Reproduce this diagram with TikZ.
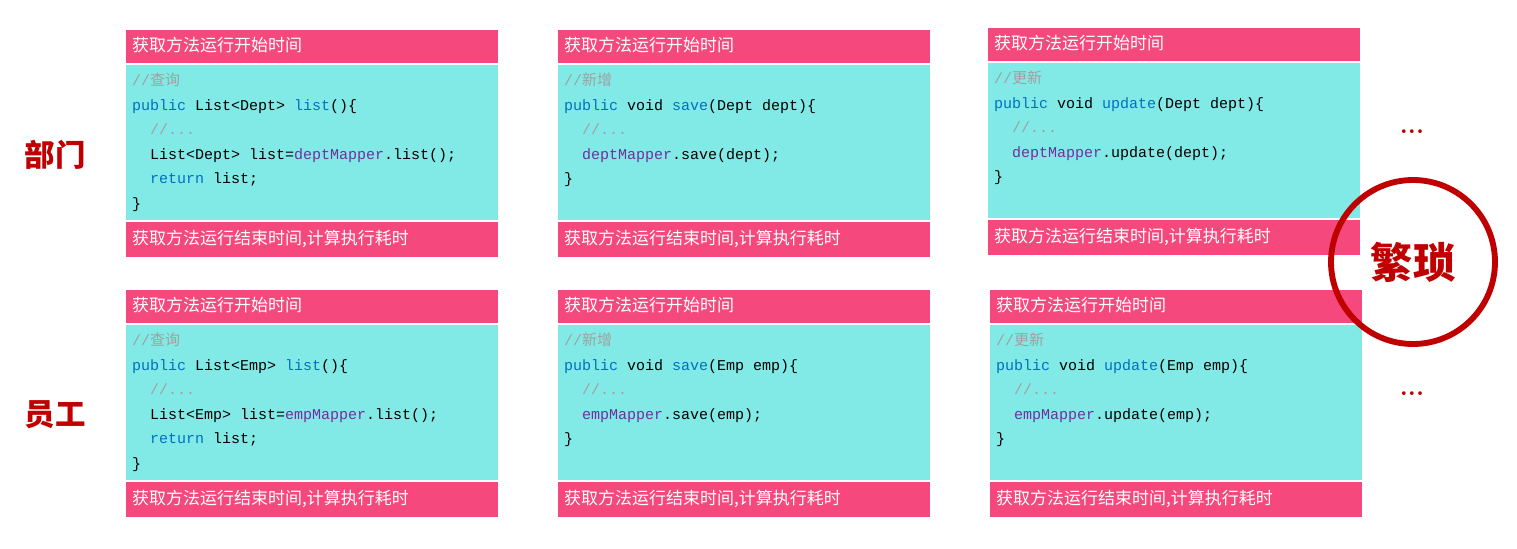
\documentclass[tikz,border=0pt]{standalone}
\usepackage{fontspec}
\setmonofont{Liberation Mono}
\newfontfamily\cjk{Noto Sans CJK SC}
\newfontfamily\cjkb{Noto Sans CJK SC Black}
\definecolor{hdr}{HTML}{F5497E}
\definecolor{cod}{HTML}{82EAE6}
\definecolor{kw}{HTML}{0070C0}
\definecolor{fn}{HTML}{7030A0}
\definecolor{cm}{HTML}{A0A0A0}
\definecolor{stamp}{HTML}{C00000}
\tikzset{
 hbox/.style={fill=hdr,draw=none,minimum width=372*0.03cm,minimum height=#1*0.03cm,anchor=north west,inner sep=0},
 cbox/.style={fill=cod,draw=none,minimum width=372*0.03cm,minimum height=155*0.03cm,anchor=north west,inner sep=0},
 htext/.style={text=white,font=\cjk\fontsize{14.5}{16}\selectfont,anchor=west,inner sep=0},
 code/.style={font=\ttfamily\fontsize{12.8}{20.9}\selectfont,align=left,anchor=north west,inner sep=0},
 side/.style={text=stamp,font=\cjkb\fontsize{26}{28}\selectfont},
}
\newcommand{\cm}[1]{\textcolor{cm}{//{\cjk #1}}}
\newcommand{\ind}{\ \ }
\newcommand{\panel}[4]{% name, x, top, code
 \node[hbox=33] (#1h) at (#2,#3) {};
 \node[htext] (#1ht) at (#2+6,#3+15) {获取方法运行开始时间};
 \node[cbox] (#1c) at (#2,#3+35) {};
 \node[code] (#1ct) at (#2+6,#3+43) {#4};
 \node[hbox=35] (#1f) at (#2,#3+192) {};
 \node[htext] (#1ft) at (#2+6,#3+209) {获取方法运行结束时间,计算执行耗时};
}
\begin{document}
\begin{tikzpicture}[x=0.03cm,y=-0.03cm]
\useasboundingbox[fill=white] (0,0) rectangle (1517,548);
\panel{a}{126}{30}{\cm{查询}\\\textcolor{kw}{public} List<Dept> \textcolor{kw}{list}()\{\\\ind\textcolor{cm}{//...}\\\ind List<Dept> list=\textcolor{fn}{deptMapper}.list();\\\ind\textcolor{kw}{return} list;\\\}}
\panel{b}{558}{30}{\cm{新增}\\\textcolor{kw}{public} void \textcolor{kw}{save}(Dept dept)\{\\\ind\textcolor{cm}{//...}\\\ind\textcolor{fn}{deptMapper}.save(dept);\\\}}
\panel{c}{988}{28}{\cm{更新}\\\textcolor{kw}{public} void \textcolor{kw}{update}(Dept dept)\{\\\ind\textcolor{cm}{//...}\\\ind\textcolor{fn}{deptMapper}.update(dept);\\\}}
\panel{d}{126}{290}{\cm{查询}\\\textcolor{kw}{public} List<Emp> \textcolor{kw}{list}()\{\\\ind\textcolor{cm}{//...}\\\ind List<Emp> list=\textcolor{fn}{empMapper}.list();\\\ind\textcolor{kw}{return} list;\\\}}
\panel{e}{558}{290}{\cm{新增}\\\textcolor{kw}{public} void \textcolor{kw}{save}(Emp emp)\{\\\ind\textcolor{cm}{//...}\\\ind\textcolor{fn}{empMapper}.save(emp);\\\}}
\panel{f}{990}{290}{\cm{更新}\\\textcolor{kw}{public} void \textcolor{kw}{update}(Emp emp)\{\\\ind\textcolor{cm}{//...}\\\ind\textcolor{fn}{empMapper}.update(emp);\\\}}
\node[side] (dept) at (55,155) {部门};
\node[side] (emp) at (55,415) {员工};
\node[side,font=\bfseries\fontsize{22}{24}\selectfont] (dots1) at (1412,132) {...};
\node[side,font=\bfseries\fontsize{22}{24}\selectfont] (dots2) at (1412,394) {...};
\draw[stamp,line width=5pt] (1413,262) circle (82);
\node[side,font=\cjkb\fontsize{36}{38}\selectfont] (fs) at (1413,262) {繁琐};
\end{tikzpicture}
\end{document}
